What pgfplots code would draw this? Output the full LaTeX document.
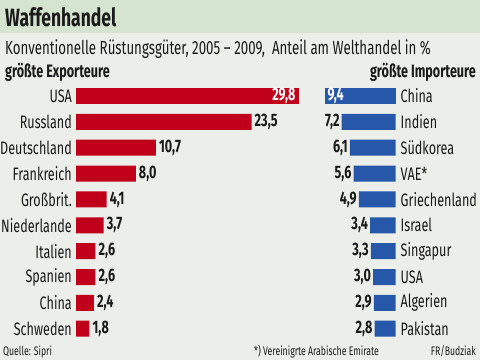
\documentclass[border=0pt]{standalone}
\usepackage{fontspec}
\setmainfont{Fira Sans}[FakeStretch=0.70]
\usepackage{pgfplots}
\pgfplotsset{compat=1.18}
\definecolor{bgtitle}{HTML}{D5E4CF}
\definecolor{bgbody}{HTML}{ECEFE9}
\definecolor{barred}{HTML}{C0001A}
\definecolor{barblue}{HTML}{2757A8}
\definecolor{txt}{HTML}{1A1A1A}
\newcommand\fs{\fontsize{18bp}{21bp}\selectfont}
\newcommand\fsm{\fontsize{12.4bp}{14bp}\selectfont}
\newcommand\valfmt{\pgfmathprintnumber[fixed,fixed zerofill,precision=1,use comma,assume math mode=true]{\pgfplotspointmeta}}
\begin{document}
\begin{tikzpicture}[text=txt]
\useasboundingbox (0bp,0bp) rectangle (480bp,-360bp);
\fill[bgbody] (0bp,0bp) rectangle (480bp,-360bp);
\fill[bgtitle] (0bp,0bp) rectangle (480bp,-33bp);
\node[anchor=base west, inner sep=0, font=\fontsize{25bp}{28bp}\selectfont\bfseries] at (5bp,-26.7bp) {Waffenhandel};
\node[anchor=base west, inner sep=0, font=\fontsize{19bp}{22bp}\selectfont] at (5bp,-54.5bp) {Konventionelle Rüstungsgüter, 2005 -- 2009,\ \ Anteil am Welthandel in \%};
\node[anchor=base west, inner sep=0, font=\fs\bfseries] at (5bp,-77bp) {größte Exporteure};
\node[anchor=base east, inner sep=0, font=\fs\bfseries] at (476bp,-77bp) {größte Importeure};
\node[anchor=base west, inner sep=0, font=\fsm] at (3bp,-355bp) {Quelle: Sipri};
\node[anchor=base west, inner sep=0, font=\fsm] at (254bp,-355bp) {*) Vereinigrte Arabische Emirate};
\node[anchor=base east, inner sep=0, font=\fsm] at (476bp,-355bp) {FR/Budziak};

\begin{axis}[at={(76bp,-83.07bp)}, anchor=north west, scale only axis,
  width=222.6bp, height=258.6bp, xmin=0, xmax=29.8, ymin=0.5, ymax=10.5,
  y dir=reverse, xbar, bar width=16bp, bar shift=0pt,
  axis line style={draw=none}, xtick=\empty, ytick={1,...,10},
  yticklabels={USA,Russland,Deutschland,Frankreich,Großbrit.,Niederlande,Italien,Spanien,China,Schweden},
  major tick length=0, yticklabel style={font=\fs, text=txt, inner sep=0pt, xshift=-4bp},
  clip=false]
\addplot[fill=barred, draw=none, nodes near coords=\valfmt,
  every node near coord/.style={anchor=west, inner sep=0pt, xshift=3bp, font=\fs\bfseries, text=txt}]
  coordinates {(23.5,2) (10.7,3) (8.0,4) (4.1,5) (3.7,6) (2.6,7) (2.6,8) (2.4,9) (1.8,10)};
\addplot[fill=barred, draw=none, nodes near coords=\valfmt,
  every node near coord/.style={anchor=east, inner sep=0pt, xshift=-3bp, font=\fs\bfseries, text=white}]
  coordinates {(29.8,1)};
\end{axis}

\begin{axis}[at={(325.3bp,-83.07bp)}, anchor=north west, scale only axis,
  width=70.2bp, height=258.6bp, xmin=-9.4, xmax=0, ymin=0.5, ymax=10.5,
  y dir=reverse, xbar, bar width=16bp, bar shift=0pt, point meta=explicit,
  axis line style={draw=none}, xtick=\empty, ytick={1,...,10},
  yticklabels={China,Indien,Südkorea,VAE*,Griechenland,Israel,Singapur,USA,Algerien,Pakistan},
  yticklabel pos=right,
  major tick length=0, yticklabel style={font=\fs, text=txt, inner sep=0pt, xshift=5bp},
  clip=false]
\addplot[fill=barblue, draw=none, nodes near coords=\valfmt,
  every node near coord/.style={anchor=east, inner sep=0pt, xshift=-2bp, font=\fs\bfseries, text=txt}]
  coordinates {(-7.2,2) [7.2] (-6.1,3) [6.1] (-5.6,4) [5.6] (-4.9,5) [4.9] (-3.4,6) [3.4] (-3.3,7) [3.3] (-3.0,8) [3.0] (-2.9,9) [2.9] (-2.8,10) [2.8]};
\addplot[fill=barblue, draw=none, nodes near coords=\valfmt,
  every node near coord/.style={anchor=west, inner sep=0pt, xshift=2bp, font=\fs\bfseries, text=white}]
  coordinates {(-9.4,1) [9.4]};
\end{axis}
\end{tikzpicture}
\end{document}
